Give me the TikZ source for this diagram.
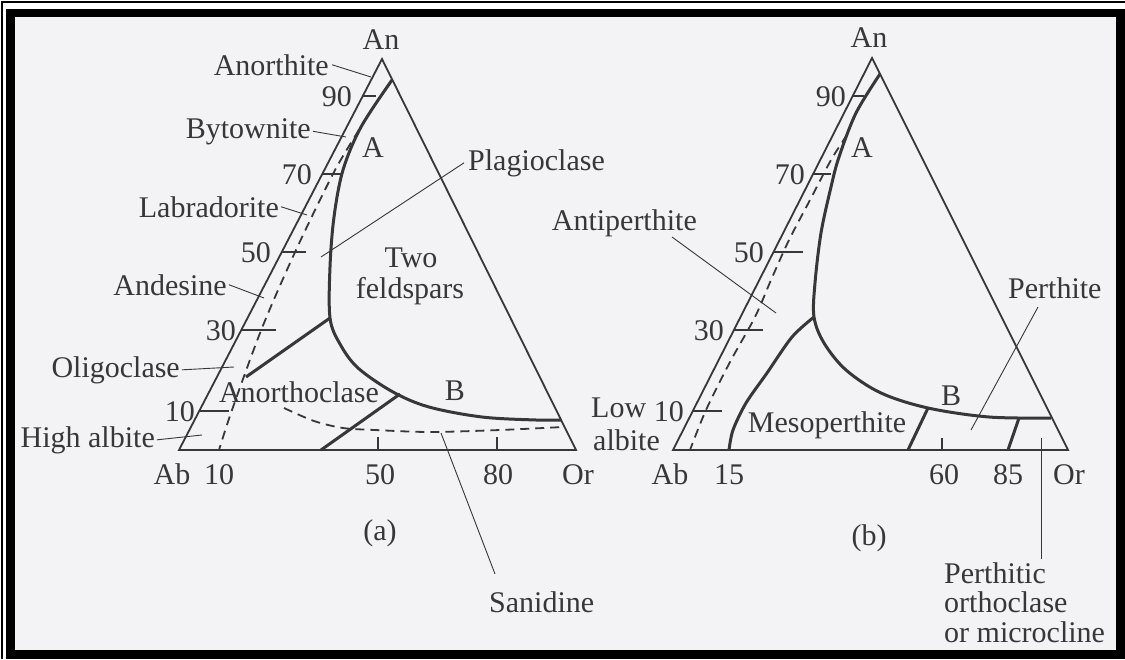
\documentclass[tikz,border=0pt]{standalone}
\usepackage{fontspec}
\setmainfont{Liberation Serif}
\usetikzlibrary{calc}
\definecolor{ink}{RGB}{55,55,55}
\definecolor{paper}{RGB}{243,243,245}
\tikzset{
  side/.style={ink,line width=1.8pt},
  bound/.style={ink,line width=3pt,line join=round},
  brk/.style={ink,line width=1.8pt,dash pattern=on 9pt off 6pt},
  tk/.style={ink,line width=1.8pt},
  lead/.style={ink,line width=0.9pt},
  lbl/.style={inner sep=0pt,text=ink,font=\lblfont,anchor=base},
}
\newcommand{\lblfont}{\fontsize{30}{33}\selectfont}

\begin{document}
\begin{tikzpicture}[x=1pt,y=-1pt]
% frame
\useasboundingbox (0,0) rectangle (1125,659);
\fill[white] (0,0) rectangle (1125,659);
\draw[black,line width=1.5pt] (2,659) -- (2,2) -- (1125,2);
\fill[black] (6,9) rectangle (1125,659);
\fill[paper] (15,17) rectangle (1116,650);

% ---- triangle (a)
\coordinate (anA) at (382,59);
\coordinate (abA) at (179,450);
\coordinate (orA) at (576,450);
\draw[side] (anA) -- (abA) -- (orA) -- cycle;
\foreach \yy/\ww/\lx/\lab in {96/13/352/90, 174/21/312/70, 252/24/271/50, 330/35/236/30, 411/30/195/10}{
  \draw[tk] ({179+(450-\yy)*0.519},\yy) -- ++(\ww,0);
  \node[lbl,anchor=base east] (ta\lab) at (\lx,\yy+10) {\lab};
}
\draw[tk] (378,437) -- (378,450);
\draw[tk] (497,437) -- (497,450);
% solvus and fields
\draw[bound] plot[smooth,tension=0.55] coordinates {(392,80) (361,127) (343,170) (334,217)
  (330,267) (330,318) (340,344) (358,368) (393,392) (429,407) (482,417) (536,420) (561,420)};
\draw[brk] plot[smooth] coordinates {(359,130) (334,172) (296,250) (262,328) (232,410) (219,450)};
\draw[brk] plot[smooth] coordinates {(284,408) (314,421) (343,428) (375,430) (430,432) (500,430) (563,427)};
\draw[bound] (330,318) -- (246,377);
\draw[bound] (400,394) -- (321,450);

\node[lbl] (lAnA) at (381,49) {An};
\node[lbl,anchor=base east] (anth) at (329,75) {Anorthite};
\node[lbl,anchor=base east] (byt) at (311,138) {Bytownite};
\node[lbl,anchor=base east] (lab) at (279,217) {Labradorite};
\node[lbl,anchor=base east] (and) at (227,295) {Andesine};
\node[lbl,anchor=base east] (oli) at (180,377) {Oligoclase};
\node[lbl,anchor=base east] (hab) at (155,447) {High albite};
\node[lbl] (ptA) at (373,157) {A};
\node[lbl] (two) at (411,267) {Two};
\node[lbl] (fsp) at (410,298) {feldspars};
\node[lbl,anchor=base west] (plag) at (468,170) {Plagioclase};
\node[lbl] (anoc) at (299,402) {Anorthoclase};
\node[lbl] (ptB) at (455,400) {B};
\node[lbl] (lAbA) at (172,484) {Ab};
\node[lbl] (b10) at (219,484) {10};
\node[lbl] (b50) at (380,484) {50};
\node[lbl] (b80) at (498,484) {80};
\node[lbl] (lOrA) at (578,484) {Or};
\node[lbl] (capA) at (380,540) {(a)};
\node[lbl,anchor=base west] (san) at (489,612) {Sanidine};

\coordinate (anthP) at (371,77);
\coordinate (bytP) at (346,137);
\coordinate (labP) at (307,215);
\coordinate (andP) at (264,298);
\coordinate (oliP) at (234,367);
\coordinate (habP) at (202,435);
\coordinate (plagP) at (321,257);
\coordinate (sanP) at (441,433);
\draw[lead] ([xshift=3pt]anth.east) -- (anthP);
\draw[lead] ([xshift=2pt]byt.east) -- (bytP);
\draw[lead] ([xshift=2pt]lab.east) -- (labP);
\draw[lead] ([xshift=2pt]and.east) -- (andP);
\draw[lead] ([xshift=2pt]oli.east) -- (oliP);
\draw[lead] ([xshift=2pt]hab.east) -- (habP);
\draw[lead] ([xshift=-4pt]plag.west) -- (plagP);
\draw[lead] ([xshift=6pt,yshift=17pt]san.north west) -- (sanP);

% ---- triangle (b)
\coordinate (anB) at (872,58);
\coordinate (abB) at (673,450);
\coordinate (orB) at (1068,450);
\draw[side] (anB) -- (abB) -- (orB) -- cycle;
\foreach \yy/\ww/\lx/\lab in {96/11/846/90, 174/18/805/70, 252/29/764/50, 330/29/724/30, 411/29/684/10}{
  \draw[tk] ({673+(450-\yy)*0.508},\yy) -- ++(\ww,0);
  \node[lbl,anchor=base east] (tb\lab) at (\lx,\yy+10) {\lab};
}
\draw[tk] (942,438) -- (942,450);
\draw[bound] plot[smooth,tension=0.55] coordinates {(880,74) (856,113) (839,157) (831,187)
  (821,233) (815,283) (814,317) (824,343) (846,370) (881,393) (928,408) (989,417) (1051,418)};
\draw[bound] plot[smooth] coordinates {(814,317) (792,337) (767,373) (746,403) (733,430) (729,450)};
\draw[brk] plot[smooth] coordinates {(847,135) (831,160) (810,200) (789,240) (771,280) (755,317)
  (730,362) (706,410) (690,450)};
\draw[bound] (928,408) -- (908,450);
\draw[bound] (1019,418) -- (1008,450);

\node[lbl] (lAnB) at (869,47) {An};
\node[lbl] (ptA2) at (862,157) {A};
\node[lbl,anchor=base east] (apt) at (697,230) {Antiperthite};
\node[lbl,anchor=base west] (pth) at (1008,298) {Perthite};
\node[lbl] (ptB2) at (951,405) {B};
\node[lbl] (meso) at (827,432) {Mesoperthite};
\node[lbl,anchor=base west] (low) at (591,417) {Low};
\node[lbl,anchor=base west] (alb) at (593,450) {albite};
\node[lbl] (lAbB) at (670,484) {Ab};
\node[lbl] (b15) at (729,484) {15};
\node[lbl] (b60) at (944,484) {60};
\node[lbl] (b85) at (1008,484) {85};
\node[lbl] (lOrB) at (1069,484) {Or};
\node[lbl] (capB) at (869,545) {(b)};
\node[lbl,anchor=base west] (pto1) at (944,583) {Perthitic};
\node[lbl,anchor=base west] (pto2) at (944,612) {orthoclase};
\node[lbl,anchor=base west] (pto3) at (944,642) {or microcline};

\coordinate (aptS) at (672,237);
\coordinate (aptP) at (776,313);
\coordinate (pthS) at (1038,307);
\coordinate (pthP) at (971,430);
\coordinate (ptoP) at (1041,438);
\draw[lead] (aptS) -- (aptP);
\draw[lead] (pthS) -- (pthP);
\draw[lead] ([xshift=97pt,yshift=3pt]pto1.north west) -- (ptoP);
\end{tikzpicture}
\end{document}
